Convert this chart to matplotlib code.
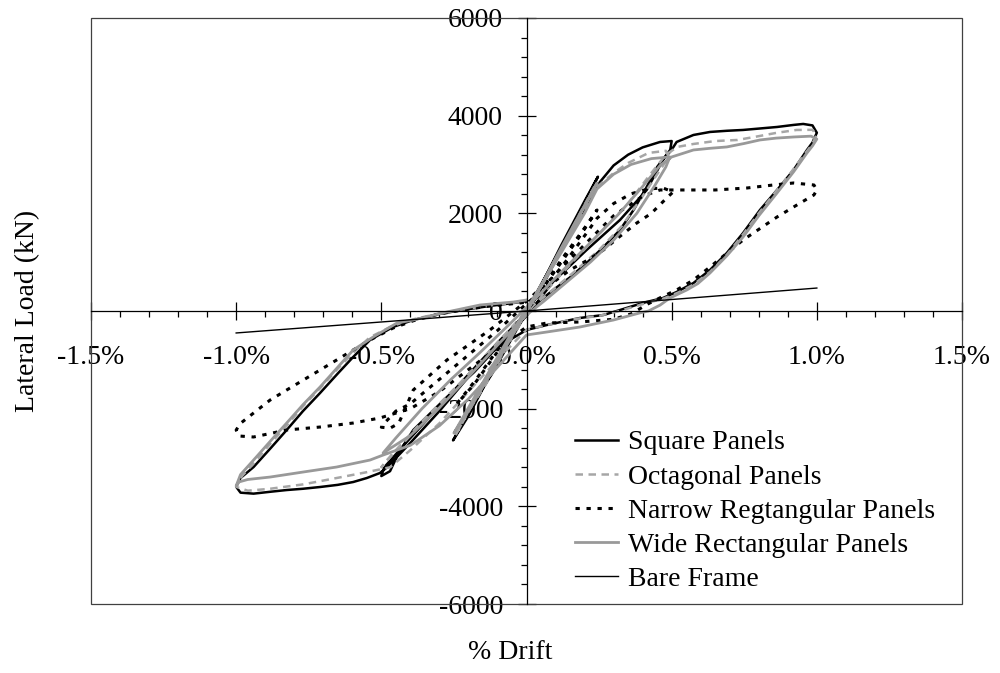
import matplotlib
matplotlib.use("Agg")
import matplotlib.pyplot as plt
from matplotlib.ticker import MultipleLocator, FuncFormatter
from matplotlib.patches import Rectangle

# drift in %, load in kN
sq_x = [0.00, 0.06, 0.12, 0.18, 0.246, 0.20, 0.12, 0.04, -0.04, -0.12, -0.19, -0.253,
        -0.20, -0.12, -0.04, 0.04, 0.12, 0.20, 0.253, 0.30, 0.35, 0.40, 0.46, 0.50, 0.495,
        0.45, 0.414, 0.37, 0.322, 0.26, 0.207, 0.15, 0.092, 0.04, 0.00, -0.10, -0.20, -0.30,
        -0.40, -0.49, -0.50, -0.47, -0.44, -0.39, -0.274, -0.18, -0.10, 0.00, 0.092, 0.207,
        0.322, 0.414, 0.47, 0.50, 0.517, 0.575, 0.632, 0.69, 0.746, 0.80, 0.863, 0.92, 0.953,
        0.985, 1.00, 0.985, 0.966, 0.92, 0.863, 0.804, 0.746, 0.69, 0.632, 0.575, 0.517, 0.47,
        0.40, 0.322, 0.265, 0.184, 0.07, 0.00, -0.06, -0.126, -0.20, -0.30, -0.40, -0.48,
        -0.505, -0.55, -0.597, -0.65, -0.711, -0.77, -0.826, -0.88, -0.94, -0.985, -1.00,
        -0.985, -0.94, -0.88, -0.826, -0.77, -0.711, -0.65, -0.597, -0.539, -0.46, -0.39,
        -0.30, -0.22, -0.13, -0.045, 0.00]
sq_y = [0, 650, 1300, 1980, 2750, 2250, 1350, 400, -450, -1300, -1950, -2650,
        -2150, -1250, -350, 350, 1250, 2100, 2642, 2980, 3200, 3350, 3461, 3480, 3300,
        2950, 2540, 2080, 1659, 1280, 983, 690, 430, 180, -50, -650, -1300, -1950,
        -2600, -3200, -3380, -3280, -2900, -2437, -1761, -1250, -737, -100, 600, 1249,
        1864, 2478, 3092, 3300, 3461, 3604, 3666, 3690, 3707, 3735, 3768, 3810, 3830,
        3800, 3650, 3450, 3297, 2888, 2478, 2068, 1597, 1188, 840, 573, 389, 266,
        164, 20, -82, -143, -287, -389, -600, -850, -1350, -2050, -2700, -3200,
        -3318, -3420, -3502, -3560, -3604, -3640, -3666, -3700, -3740, -3720, -3600,
        -3420, -3195, -2800, -2437, -2050, -1679, -1280, -942, -594, -328, -184,
        -60, 20, 100, 164, 200]

oct_x = [0.00, 0.06, 0.12, 0.18, 0.235, 0.18, 0.10, 0.02, -0.06, -0.14, -0.20, -0.245,
         -0.18, -0.10, -0.02, 0.06, 0.14, 0.20, 0.235, 0.30, 0.35, 0.42, 0.48, 0.49, 0.45,
         0.40, 0.33, 0.25, 0.16, 0.08, 0.00, -0.10, -0.20, -0.30, -0.40, -0.48, -0.50, -0.45,
         -0.35, -0.25, -0.15, -0.05, 0.05, 0.15, 0.25, 0.35, 0.42, 0.48, 0.52, 0.575, 0.65,
         0.727, 0.80, 0.863, 0.93, 0.985, 1.00, 0.98, 0.95, 0.90, 0.85, 0.80, 0.746, 0.69,
         0.632, 0.575, 0.52, 0.47, 0.40, 0.32, 0.25, 0.16, 0.07, 0.00, -0.10, -0.20, -0.30,
         -0.40, -0.47, -0.55, -0.654, -0.769, -0.883, -0.96, -1.00, -0.98, -0.94, -0.88,
         -0.826, -0.77, -0.711, -0.65, -0.597, -0.54, -0.46, -0.39, -0.30, -0.22, -0.13,
         -0.045, 0.00]
oct_y = [0, 620, 1250, 1900, 2560, 1950, 1050, 150, -650, -1500, -2050, -2550,
         -1850, -1000, -150, 600, 1450, 2100, 2500, 2826, 3031, 3236, 3280, 3150, 2800,
         2350, 1750, 1250, 780, 380, 0, -650, -1300, -1950, -2550, -3050, -3200, -2850,
         -2200, -1600, -1000, -350, 300, 950, 1580, 2200, 2750, 3200, 3360, 3420, 3480,
         3502, 3580, 3650, 3707, 3710, 3600, 3380, 3150, 2750, 2380, 2000, 1570, 1150,
         800, 540, 370, 250, 140, 0, -100, -170, -290, -380, -1000, -1650, -2300,
         -2850, -3200, -3300, -3420, -3550, -3640, -3680, -3600, -3380, -3120, -2700,
         -2350, -1950, -1580, -1180, -860, -540, -300, -170, -50, 30, 110,
         170, 200]

nar_x = [0.00, 0.06, 0.12, 0.18, 0.243, 0.20, 0.12, 0.04, -0.04, -0.12, -0.18, -0.24,
         -0.18, -0.10, -0.02, 0.06, 0.14, 0.207, 0.243, 0.30, 0.36, 0.42, 0.47, 0.505, 0.483,
         0.43, 0.38, 0.32, 0.265, 0.21, 0.15, 0.07, 0.00, -0.10, -0.20, -0.30, -0.40, -0.45,
         -0.49, -0.50, -0.47, -0.44, -0.39, -0.274, -0.126, 0.00, 0.092, 0.207, 0.30, 0.40,
         0.46, 0.55, 0.65, 0.76, 0.85, 0.92, 0.99, 1.00, 0.99, 0.943, 0.863, 0.746, 0.632,
         0.575, 0.517, 0.47, 0.42, 0.36, 0.30, 0.184, 0.07, 0.00, -0.10, -0.20, -0.30, -0.40,
         -0.505, -0.597, -0.711, -0.826, -0.94, -0.99, -1.00, -0.985, -0.94, -0.883, -0.826,
         -0.711, -0.597, -0.539, -0.46, -0.39, -0.30, -0.22, -0.13, -0.045, 0.00]
nar_y = [0, 500, 1000, 1500, 2068, 1700, 1050, 350, -350, -1000, -1500, -1900,
         -1450, -800, -150, 450, 1050, 1597, 1900, 2200, 2400, 2500, 2519, 2437, 2314,
         2000, 1802, 1520, 1249, 1040, 840, 492, 150, -400, -900, -1400, -1900, -2050,
         -2300, -2380, -2400, -2300, -1618, -1003, -389, 200, 700, 1400, 1950, 2350,
         2478, 2478, 2478, 2519, 2580, 2621, 2580, 2478, 2376, 2212, 1925, 1454, 901,
         635, 430, 300, 150, -60, -170, -225, -246, -328, -750, -1200, -1650, -2000,
         -2191, -2294, -2376, -2437, -2580, -2560, -2437, -2300, -2089, -1823, -1618,
         -1208, -799, -594, -350, -200, -60, 20, 100, 150, 180]

wide_x = [0.00, 0.06, 0.12, 0.18, 0.243, 0.18, 0.10, 0.02, -0.06, -0.14, -0.20, -0.25,
          -0.20, -0.12, -0.04, 0.04, 0.12, 0.20, 0.243, 0.30, 0.36, 0.43, 0.494, 0.48, 0.44,
          0.38, 0.30, 0.22, 0.14, 0.06, 0.00, -0.10, -0.20, -0.30, -0.40, -0.494, -0.45,
          -0.36, -0.26, -0.16, -0.06, 0.03, 0.12, 0.22, 0.32, 0.40, 0.46, 0.50, 0.54, 0.575,
          0.63, 0.69, 0.75, 0.804, 0.86, 0.92, 0.98, 1.00, 0.985, 0.966, 0.92, 0.863, 0.80,
          0.746, 0.69, 0.632, 0.59, 0.552, 0.494, 0.46, 0.42, 0.39, 0.30, 0.184, 0.07, 0.00,
          -0.10, -0.20, -0.30, -0.40, -0.494, -0.539, -0.654, -0.769, -0.883, -0.96, -0.99,
          -1.00, -0.985, -0.94, -0.88, -0.826, -0.77, -0.711, -0.65, -0.597, -0.528, -0.446,
          -0.39, -0.274, -0.16, -0.045, 0.00]
wide_y = [0, 600, 1250, 1920, 2621, 1950, 1080, 180, -620, -1450, -2050, -2500,
          -1980, -1150, -330, 420, 1200, 2000, 2500, 2800, 3000, 3120, 3154, 2950, 2550,
          2000, 1450, 1000, 600, 200, -80, -700, -1350, -1980, -2550, -2908, -2600,
          -2000, -1400, -850, -280, 250, 800, 1400, 2000, 2550, 2980, 3154, 3230, 3297,
          3330, 3359, 3430, 3502, 3540, 3563, 3580, 3520, 3380, 3236, 2850, 2417, 1950,
          1516, 1130, 778, 560, 430, 266, 120, 0, -40, -184, -328, -430, -491,
          -1150, -1800, -2350, -2750, -2950, -3052, -3195, -3297, -3400, -3450, -3500,
          -3580, -3350, -3052, -2650, -2294, -1920, -1556, -1150, -799, -532, -246,
          -184, -20, 123, 184, 225]

bare_x = [-1.00, -0.50, 0.00, 0.50, 1.00]
bare_y = [-450, -225, 0, 235, 470]

labels = ["Square Panels", "Octagonal Panels", "Narrow Regtangular Panels",
          "Wide Rectangular Panels", "Bare Frame"]

plt.rcParams['font.family'] = ['Liberation Serif', 'DejaVu Serif']
plt.rcParams['font.size'] = 20

fig = plt.figure(figsize=(10, 6.73), dpi=100)
ax = fig.add_axes([0.091, 0.1025, 0.871, 0.8708])

ax.plot(sq_x, sq_y, color='black', lw=1.8, label=labels[0])
ax.plot(oct_x, oct_y, color='#a6a6a6', lw=1.8, dashes=(3, 2.2), label=labels[1])
ax.plot(nar_x, nar_y, color='black', lw=2.2, dashes=(1.4, 2.2), label=labels[2])
ax.plot(wide_x, wide_y, color='#999999', lw=2.0, label=labels[3])
ax.plot(bare_x, bare_y, color='black', lw=1.0, label=labels[4])

ax.set_xlim(-1.5, 1.5)
ax.set_ylim(-6000, 6000)

ax.spines['left'].set_position(('data', 0))
ax.spines['bottom'].set_position(('data', 0))
ax.spines['right'].set_visible(False)
ax.spines['top'].set_visible(False)
ax.spines['left'].set_linewidth(0.9)
ax.spines['bottom'].set_linewidth(0.9)
ax.add_patch(Rectangle((0, 0), 1, 1, transform=ax.transAxes, fill=False,
                       lw=0.9, edgecolor='#404040', clip_on=False))
ax.set_axisbelow(True)

ax.xaxis.set_major_locator(MultipleLocator(0.5))
ax.xaxis.set_minor_locator(MultipleLocator(0.1))
ax.yaxis.set_major_locator(MultipleLocator(2000))
ax.yaxis.set_minor_locator(MultipleLocator(400))
ax.xaxis.set_major_formatter(FuncFormatter(lambda v, p: '{:.1f}%'.format(v)))
ax.yaxis.set_major_formatter(FuncFormatter(lambda v, p: '{:.0f}'.format(v)))

ax.tick_params(which='major', direction='inout', length=13, width=0.9)
ax.tick_params(which='minor', direction='out', length=4.5, width=0.9)
ax.tick_params(axis='y', which='major', pad=10.5)
ax.tick_params(axis='x', which='major', pad=18)

fig.text(0.028, 0.538, 'Lateral Load (kN)', rotation=90, ha='center', va='center')
fig.text(0.51, 0.03, '% Drift', ha='center', va='center')

ax.legend(loc='upper left', bbox_to_anchor=(0.575, 0.361), bbox_transform=fig.transFigure,
          frameon=False, borderpad=0, borderaxespad=0, handlelength=1.55,
          handletextpad=0.35, labelspacing=0.31)

fig.savefig('out.png', dpi=100)
